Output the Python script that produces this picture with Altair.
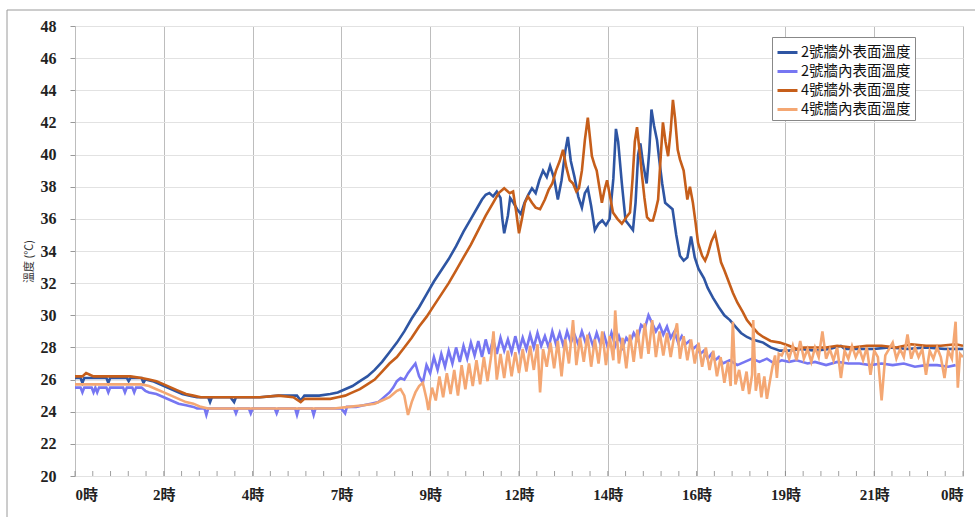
import altair as alt
import pandas as pd

series_names = ["2號牆外表面溫度", "2號牆內表面溫度", "4號牆外表面溫度", "4號牆內表面溫度"]
series_colors = ["#2E55A3", "#7676F2", "#C65E1A", "#F4A773"]

x_ticks = [0, 2.4, 4.8, 7.2, 9.6, 12, 14.4, 16.8, 19.2, 21.6, 24]
x_minor_ticks = [round(i * 0.48, 2) for i in range(51)]
y_ticks = list(range(20, 49, 2))
y_title = "溫度 (℃)"

# (hour, temperature)
ext2 = [(0.0,26.1),(0.15,26.1),(0.2,25.8),(0.25,26.1),(0.5,26.1),(0.85,26.1),(0.9,25.8),(0.95,26.1),(1.4,26.1),(1.45,25.9),(1.5,26.1),(1.8,26.1),(1.85,25.8),(1.9,26.0),(2.1,25.9),(2.3,25.7),(2.5,25.5),(2.7,25.3),(2.9,25.1),(3.1,25.0),(3.3,24.9),(3.6,24.9),(3.65,24.6),(3.7,24.9),(4.2,24.9),(4.3,24.6),(4.35,24.9),(5.0,24.9),(5.5,25.0),(6.0,25.0),(6.1,24.7),(6.2,25.0),(6.6,25.0),(6.9,25.1),(7.1,25.2),(7.3,25.4),(7.5,25.6),(7.7,25.9),(7.9,26.2),(8.1,26.6),(8.3,27.1),(8.5,27.7),(8.7,28.3),(8.9,29.0),(9.1,29.8),(9.3,30.5),(9.5,31.3),(9.7,32.1),(9.9,32.8),(10.1,33.5),(10.3,34.3),(10.5,35.2),(10.7,36.0),(10.9,36.8),(11.0,37.2),(11.1,37.5),(11.2,37.6),(11.3,37.4),(11.4,37.7),(11.5,37.3),(11.55,36.0),(11.6,35.1),(11.7,36.2),(11.76,37.3),(11.85,37.0),(11.95,36.6),(12.05,36.3),(12.15,37.0),(12.25,37.5),(12.35,37.9),(12.45,37.6),(12.55,38.4),(12.65,39.0),(12.75,38.6),(12.84,39.3),(12.95,38.5),(13.05,37.2),(13.15,38.4),(13.25,40.2),(13.32,41.1),(13.4,39.6),(13.5,38.6),(13.6,37.4),(13.7,36.7),(13.78,37.6),(13.86,37.9),(13.95,36.8),(14.05,35.3),(14.15,35.7),(14.25,35.9),(14.35,35.6),(14.45,36.0),(14.55,38.5),(14.62,41.6),(14.68,40.8),(14.78,38.2),(14.88,35.9),(14.98,35.6),(15.08,35.3),(15.15,37.0),(15.22,40.0),(15.28,40.7),(15.35,39.5),(15.45,38.2),(15.52,40.2),(15.58,42.8),(15.65,41.8),(15.73,40.9),(15.8,39.5),(15.87,38.2),(15.95,37.0),(16.05,36.8),(16.15,36.6),(16.25,35.0),(16.35,33.7),(16.45,33.4),(16.55,33.6),(16.65,34.9),(16.75,33.6),(16.85,32.9),(17.0,32.3),(17.1,31.7),(17.24,31.1),(17.4,30.5),(17.55,30.0),(17.7,29.7),(17.85,29.3),(18.0,28.9),(18.16,28.65),(18.3,28.5),(18.45,28.4),(18.6,28.3),(18.8,28.0),(19.05,27.8),(19.3,27.8),(19.6,27.9),(20.0,27.8),(20.4,27.9),(20.7,28.1),(20.8,27.9),(21.2,27.9),(21.6,27.9),(22.0,28.0),(22.5,27.9),(23.0,28.0),(23.5,27.9),(24.0,27.9)]

int2 = [(0.0,25.5),(0.15,25.5),(0.2,25.2),(0.25,25.5),(0.45,25.5),(0.5,25.2),(0.55,25.5),(0.6,25.2),(0.65,25.5),(0.85,25.5),(0.9,25.2),(0.95,25.5),(1.3,25.5),(1.35,25.2),(1.4,25.5),(1.55,25.5),(1.6,25.2),(1.65,25.5),(1.8,25.5),(1.9,25.3),(2.0,25.2),(2.2,25.1),(2.4,24.9),(2.6,24.7),(2.8,24.5),(3.0,24.4),(3.2,24.3),(3.3,24.2),(3.5,24.2),(3.55,23.8),(3.6,24.2),(4.3,24.2),(4.35,23.9),(4.4,24.2),(4.7,24.2),(4.75,23.9),(4.8,24.2),(5.4,24.2),(5.45,23.9),(5.5,24.2),(5.95,24.2),(6.0,23.8),(6.05,24.2),(6.4,24.2),(6.45,23.8),(6.5,24.2),(7.2,24.2),(7.3,23.9),(7.35,24.3),(7.6,24.3),(7.8,24.4),(8.0,24.5),(8.2,24.6),(8.3,24.8),(8.4,25.0),(8.5,25.2),(8.6,25.5),(8.7,25.9),(8.8,26.1),(8.9,26.0),(9.0,26.4),(9.1,26.7),(9.2,27.0),(9.3,26.2),(9.4,25.8),(9.5,26.9),(9.6,26.4),(9.7,27.4),(9.8,26.6),(9.9,27.6),(10.0,26.8),(10.1,27.8),(10.2,27.0),(10.3,28.0),(10.4,27.1),(10.5,28.1),(10.6,27.3),(10.7,28.3),(10.8,27.5),(10.9,28.4),(11.0,27.4),(11.1,28.5),(11.2,27.6),(11.3,28.5),(11.4,27.6),(11.5,28.6),(11.6,27.8),(11.7,28.5),(11.8,27.7),(11.9,28.7),(12.0,27.8),(12.1,28.6),(12.2,27.9),(12.3,28.8),(12.4,28.0),(12.5,28.9),(12.6,28.1),(12.7,28.7),(12.8,28.0),(12.9,29.0),(13.0,28.2),(13.1,28.9),(13.2,28.1),(13.3,29.0),(13.4,28.3),(13.5,28.8),(13.6,28.2),(13.7,29.0),(13.8,28.3),(13.9,28.8),(14.0,28.1),(14.1,28.9),(14.2,28.2),(14.3,28.8),(14.4,28.0),(14.5,28.9),(14.6,28.1),(14.7,28.7),(14.8,28.0),(14.9,28.6),(15.0,28.3),(15.1,28.9),(15.2,28.5),(15.3,29.4),(15.4,29.2),(15.5,30.0),(15.6,29.5),(15.7,29.0),(15.8,29.4),(15.9,28.8),(16.0,29.3),(16.1,28.6),(16.2,29.0),(16.3,28.3),(16.4,28.7),(16.5,28.2),(16.6,28.4),(16.7,27.9),(16.8,28.1),(16.9,27.6),(17.0,27.8),(17.1,27.3),(17.2,27.6),(17.3,27.2),(17.4,27.4),(17.5,27.0),(17.7,27.2),(17.9,26.9),(18.1,27.1),(18.3,27.3),(18.5,27.1),(18.7,27.3),(18.9,27.0),(19.1,27.2),(19.3,27.1),(19.5,27.2),(19.8,27.0),(20.0,27.1),(20.3,26.9),(20.6,27.1),(20.9,27.0),(21.2,27.0),(21.5,26.9),(21.8,27.0),(22.1,26.9),(22.4,27.0),(22.7,26.8),(23.0,26.9),(23.3,26.9),(23.6,26.8),(23.8,26.9)]

ext4 = [(0.0,26.2),(0.2,26.2),(0.3,26.4),(0.4,26.3),(0.5,26.2),(1.0,26.2),(1.5,26.2),(1.8,26.1),(2.0,26.0),(2.2,25.9),(2.4,25.7),(2.6,25.5),(2.8,25.3),(3.0,25.1),(3.2,25.0),(3.4,24.9),(4.0,24.9),(4.5,24.9),(5.0,24.9),(5.5,25.0),(5.9,24.9),(6.1,24.6),(6.2,24.8),(6.5,24.8),(6.9,24.8),(7.1,24.9),(7.3,25.0),(7.5,25.2),(7.7,25.4),(7.9,25.7),(8.1,26.0),(8.3,26.5),(8.5,27.0),(8.7,27.4),(8.9,28.0),(9.1,28.6),(9.3,29.3),(9.5,29.9),(9.7,30.6),(9.9,31.3),(10.1,32.0),(10.3,32.8),(10.5,33.6),(10.7,34.4),(10.9,35.3),(11.1,36.2),(11.3,37.0),(11.45,37.6),(11.6,37.9),(11.75,37.6),(11.84,37.7),(11.92,36.5),(12.0,35.1),(12.08,36.0),(12.16,37.0),(12.24,37.4),(12.35,37.0),(12.45,36.7),(12.57,36.6),(12.7,37.2),(12.8,37.8),(12.9,38.2),(13.0,39.0),(13.1,39.6),(13.19,40.3),(13.28,39.2),(13.37,38.4),(13.46,38.2),(13.55,37.7),(13.62,37.9),(13.7,39.0),(13.78,40.9),(13.86,42.3),(13.92,41.0),(13.97,39.9),(14.05,39.3),(14.1,39.0),(14.17,38.0),(14.24,37.0),(14.31,37.8),(14.38,38.4),(14.46,37.4),(14.54,36.4),(14.66,36.0),(14.78,35.7),(14.9,36.1),(15.0,36.4),(15.07,38.5),(15.13,40.8),(15.19,41.7),(15.26,40.2),(15.32,38.8),(15.39,37.3),(15.46,36.1),(15.54,35.9),(15.62,35.9),(15.69,36.5),(15.76,37.2),(15.82,39.5),(15.89,42.0),(15.96,40.8),(16.03,39.9),(16.1,41.5),(16.16,43.4),(16.22,42.2),(16.29,40.3),(16.35,39.7),(16.45,39.0),(16.55,37.2),(16.62,38.0),(16.7,37.0),(16.77,35.8),(16.84,34.5),(16.95,33.7),(17.03,33.4),(17.1,33.8),(17.2,34.6),(17.3,35.1),(17.38,34.2),(17.46,33.3),(17.55,32.8),(17.65,32.2),(17.78,31.4),(17.9,30.8),(18.05,30.2),(18.16,29.7),(18.3,29.3),(18.45,28.9),(18.6,28.65),(18.8,28.4),(19.05,28.3),(19.3,28.1),(19.5,27.9),(19.7,28.0),(20.0,28.0),(20.3,28.0),(20.6,28.1),(21.0,28.0),(21.4,28.1),(21.8,28.1),(22.2,28.0),(22.6,28.2),(23.0,28.1),(23.4,28.1),(23.8,28.2),(24.0,28.1)]

int4 = [(0.0,25.7),(0.5,25.7),(1.0,25.7),(1.5,25.7),(1.8,25.7),(2.0,25.6),(2.2,25.4),(2.4,25.2),(2.6,25.0),(2.8,24.8),(3.0,24.6),(3.2,24.5),(3.4,24.3),(3.6,24.2),(4.5,24.2),(5.5,24.2),(6.5,24.2),(7.0,24.2),(7.4,24.3),(7.8,24.4),(8.1,24.5),(8.3,24.7),(8.5,24.9),(8.6,25.1),(8.7,25.3),(8.8,25.4),(8.9,25.0),(9.0,23.8),(9.1,24.6),(9.2,25.2),(9.3,25.6),(9.4,25.8),(9.5,24.8),(9.55,24.1),(9.65,25.5),(9.75,24.7),(9.85,26.2),(9.95,24.9),(10.05,26.4),(10.15,25.1),(10.25,26.6),(10.35,25.0),(10.45,26.9),(10.55,25.4),(10.65,27.0),(10.75,25.6),(10.85,27.2),(10.95,25.7),(11.05,27.4),(11.15,25.9),(11.25,27.5),(11.31,29.0),(11.4,26.0),(11.5,27.6),(11.6,26.1),(11.7,27.8),(11.8,26.2),(11.9,27.7),(12.0,26.4),(12.1,27.9),(12.2,26.5),(12.3,28.1),(12.4,26.6),(12.5,28.2),(12.57,25.2),(12.65,27.9),(12.75,26.8),(12.85,28.3),(12.95,26.7),(13.05,28.4),(13.15,26.2),(13.25,28.5),(13.35,27.0),(13.46,29.7),(13.55,26.9),(13.65,28.6),(13.75,27.1),(13.85,28.8),(13.95,26.8),(14.05,28.5),(14.15,27.0),(14.25,29.0),(14.35,26.9),(14.45,28.7),(14.55,27.2),(14.6,30.3),(14.7,27.0),(14.8,28.6),(14.9,26.7),(15.0,28.8),(15.1,27.1),(15.2,29.1),(15.3,27.3),(15.4,29.5),(15.5,27.6),(15.6,29.7),(15.7,27.4),(15.8,29.0),(15.9,27.5),(16.0,28.9),(16.1,27.4),(16.2,28.8),(16.27,29.5),(16.35,27.3),(16.45,28.7),(16.55,27.2),(16.65,28.5),(16.75,27.0),(16.85,28.3),(16.95,26.8),(17.05,28.0),(17.15,26.6),(17.25,27.8),(17.35,26.2),(17.45,27.4),(17.55,25.8),(17.65,27.1),(17.72,25.6),(17.78,29.6),(17.85,25.7),(17.95,26.6),(18.05,25.3),(18.15,26.5),(18.22,25.1),(18.3,26.3),(18.33,29.7),(18.4,25.3),(18.48,26.4),(18.55,24.9),(18.63,26.2),(18.7,24.8),(18.78,25.9),(18.85,26.8),(18.92,27.5),(18.97,26.1),(19.02,27.6),(19.1,27.5),(19.2,28.0),(19.3,27.3),(19.4,28.1),(19.5,27.2),(19.6,28.4),(19.7,27.3),(19.8,27.9),(19.9,27.1),(20.0,28.0),(20.1,27.4),(20.2,29.0),(20.3,27.3),(20.4,27.9),(20.5,27.2),(20.6,28.0),(20.7,26.1),(20.8,27.8),(20.9,27.3),(21.0,28.1),(21.1,27.4),(21.2,27.9),(21.3,27.2),(21.4,28.0),(21.5,26.3),(21.6,27.8),(21.7,27.4),(21.8,24.7),(21.9,27.5),(22.0,27.9),(22.1,28.3),(22.2,27.3),(22.3,27.9),(22.4,27.4),(22.5,28.8),(22.6,27.3),(22.7,28.0),(22.8,27.4),(22.9,27.9),(23.0,26.3),(23.1,27.8),(23.2,27.3),(23.3,28.0),(23.4,27.4),(23.5,26.1),(23.6,27.8),(23.7,27.3),(23.8,29.6),(23.86,25.5),(23.92,27.6),(24.0,27.4)]

rows = []
for i, (name, pts) in enumerate(zip(series_names, [ext2, int2, ext4, int4])):
    for t, v in pts:
        rows.append({"hour": t, "temp": v, "series": name, "k": i})
df = pd.DataFrame(rows)

W, H = 888, 450

xscale = alt.Scale(domain=[0, 24], nice=False, zero=False)
yscale = alt.Scale(domain=[20, 48], nice=False, zero=False)

x_axis = alt.Axis(
    values=x_ticks, labelExpr="floor(datum.value + 0.001) % 24 + '時'",
    grid=True, gridColor="#bdbdbd", gridWidth=1,
    ticks=False, domain=False, labelPadding=11,
    labelFont="Liberation Serif, Noto Sans CJK TC", labelFontSize=15,
    labelFontWeight="bold", labelColor="#222", title=None, orient="bottom")

lines = alt.Chart(df).mark_line(strokeWidth=2.6, clip=True).encode(
    x=alt.X("hour:Q", scale=xscale, axis=x_axis),
    y=alt.Y("temp:Q", scale=yscale, axis=alt.Axis(
        values=y_ticks, grid=True, gridColor="#e2e2e2", tickSize=5, tickColor="#999",
        domain=False, labelPadding=14,
        labelFont="Liberation Serif", labelFontSize=16, labelFontWeight="bold", labelColor="#222",
        title=y_title, titleFont="Noto Sans CJK TC", titleFontSize=11, titleFontWeight="normal",
        titleColor="#333", titlePadding=6, titleY=235)),
    color=alt.Color("series:N", scale=alt.Scale(domain=series_names, range=series_colors),
        legend=alt.Legend(orient="none", legendX=697, legendY=11, title=None,
            symbolType="stroke", symbolSize=400, symbolStrokeWidth=3,
            labelFont="Noto Sans CJK TC", labelFontSize=14.5, labelColor="#111",
            labelOffset=2, strokeColor="#888", fillColor="white", padding=4, rowPadding=1)),
    detail="k:N",
)

minor = alt.Chart(pd.DataFrame({"hour": x_minor_ticks})).mark_tick(
    color="#777", thickness=1, size=5, clip=False).encode(
    x=alt.X("hour:Q", scale=xscale, axis=x_axis),
    y=alt.value(H - 2.5),
)

frame = alt.Chart(pd.DataFrame({"k": [0]})).mark_rect(
    fillOpacity=0, stroke="#9a9a9a", strokeWidth=1, clip=False).encode(
    x=alt.value(-68), x2=alt.value(1000), y=alt.value(-16), y2=alt.value(600))

chart = alt.layer(frame, lines, minor).properties(
    width=W, height=H, autosize=alt.AutoSizeParams(type="none"),
    padding={"left": 75, "top": 26, "right": 12, "bottom": 41},
).configure_view(stroke="#a8a8a8", strokeWidth=1).configure(background="white")

chart.save("out.html", embed_options={"renderer": "svg", "actions": False})
